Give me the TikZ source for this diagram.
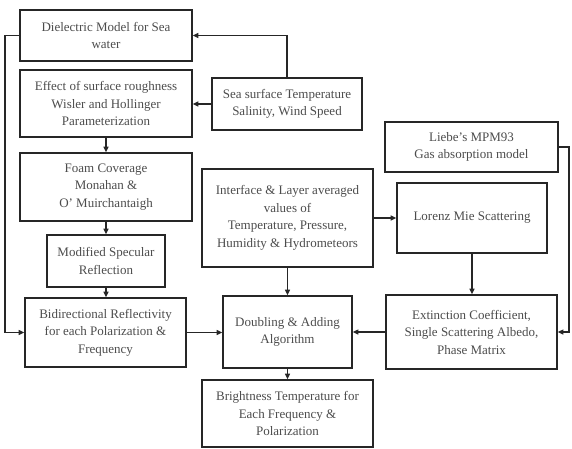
\documentclass[tikz,border=0pt]{standalone}
\usepackage{fontspec}
\setmainfont{Liberation Serif}
\usetikzlibrary{arrows.meta}
\tikzset{
  box/.style={draw=black!85, line width=1.7pt, inner sep=0pt, align=center, text=black!70,
    font=\fontsize{13pt}{17.5pt}\selectfont},
  arr/.style={draw=black!85, line width=1.2pt, -{Triangle[length=5.5pt,width=5pt]}},
}
\begin{document}
\begin{tikzpicture}[x=1pt,y=-1pt]
\useasboundingbox (0,0) rectangle (572,448);
\node[box, minimum width=172pt, minimum height=51pt] (diel) at (106,35.5) {Dielectric Model for Sea\\water};
\node[box, minimum width=172pt, minimum height=67pt] (rough) at (106,103.5) {Effect of surface roughness\\Wisler and Hollinger\\Parameterization};
\node[box, minimum width=150pt, minimum height=52pt] (sea) at (287,104) {Sea surface Temperature\\Salinity, Wind Speed};
\node[box, minimum width=172pt, minimum height=68pt] (foam) at (106,187) {Foam Coverage\\Monahan \&\\O’ Muirchantaigh};
\node[box, minimum width=118pt, minimum height=52pt] (spec) at (106,261) {Modified Specular\\Reflection};
\node[box, minimum width=161pt, minimum height=69pt] (bidir) at (105.5,332.5) {Bidirectional Reflectivity\\for each Polarization \&\\Frequency};
\node[box, minimum width=171pt, minimum height=98pt] (interf) at (287.5,218) {Interface \& Layer averaged\\values of\\Temperature, Pressure,\\Humidity \& Hydrometeors};
\node[box, minimum width=173pt, minimum height=50pt] (liebe) at (471.5,147) {Liebe’s MPM93\\Gas absorption model};
\node[box, minimum width=150pt, minimum height=70pt] (lorenz) at (472,218) {Lorenz Mie Scattering};
\node[box, minimum width=129pt, minimum height=72pt] (doub) at (287.5,332) {Doubling \& Adding\\Algorithm};
\node[box, minimum width=171pt, minimum height=74pt] (ext) at (471.5,332) {Extinction Coefficient,\\Single Scattering Albedo,\\Phase Matrix};
\node[box, minimum width=171pt, minimum height=67pt] (bright) at (287.5,413.5) {Brightness Temperature for\\Each Frequency \&\\Polarization};
\coordinate (L) at (5,35.5);
\coordinate (R) at (569,147);
\draw[arr] (sea.north) |- (diel.east);
\draw[arr] (sea.west) -- (sea.west -| rough.east);
\draw[arr] (rough.south) -- (foam.north);
\draw[arr] (foam.south) -- (spec.north);
\draw[arr] (spec.south) -- (spec.south |- bidir.north);
\draw[arr] (diel.west) -- (L) |- (bidir.west);
\draw[arr] (bidir.east) -- (bidir.east -| doub.west);
\draw[arr] (interf.south) -- (doub.north);
\draw[arr] (interf.east) -- (interf.east -| lorenz.west);
\draw[arr] (lorenz.south) -- (lorenz.south |- ext.north);
\draw[arr] (ext.west) -- (ext.west -| doub.east);
\draw[arr] (liebe.east) -- (R) |- (ext.east);
\draw[arr] (doub.south) -- (bright.north);
\end{tikzpicture}
\end{document}
